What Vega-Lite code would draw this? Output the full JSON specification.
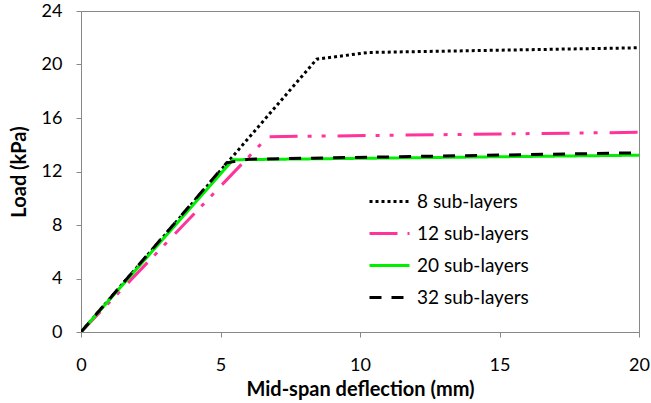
{
  "$schema": "https://vega.github.io/schema/vega-lite/v6.json",
  "autosize": "none",
  "width": 558,
  "height": 321,
  "padding": {"left": 81, "top": 11, "right": 12, "bottom": 71},
  "background": "white",
  "config": {
    "view": {"stroke": "#888888", "strokeWidth": 1},
    "font": "Lato",
    "axis": {"grid": false, "labelFlush": false, "domainColor": "#888888", "tickColor": "#888888", "tickSize": 5, "labelFont": "Lato", "labelFontSize": 18, "labelColor": "black", "titleFont": "Lato", "titleFontSize": 20, "titleFontWeight": "bold", "titleColor": "black"}
  },
  "data": {
    "values": [
      {"series": "8 sub-layers", "x": 0, "y": 0},
      {"series": "8 sub-layers", "x": 8.45, "y": 20.4},
      {"series": "8 sub-layers", "x": 10.3, "y": 20.9},
      {"series": "8 sub-layers", "x": 20, "y": 21.25},
      {"series": "12 sub-layers", "x": 0, "y": 0},
      {"series": "12 sub-layers", "x": 6.7, "y": 14.6},
      {"series": "12 sub-layers", "x": 20, "y": 14.93},
      {"series": "20 sub-layers", "x": 0, "y": 0},
      {"series": "20 sub-layers", "x": 5.45, "y": 12.88},
      {"series": "20 sub-layers", "x": 20, "y": 13.22},
      {"series": "32 sub-layers", "x": 0, "y": 0},
      {"series": "32 sub-layers", "x": 5.22, "y": 12.65},
      {"series": "32 sub-layers", "x": 6.0, "y": 12.92},
      {"series": "32 sub-layers", "x": 20, "y": 13.4}
    ]
  },
  "mark": {"type": "line", "strokeWidth": 3, "clip": true},
  "encoding": {
    "x": {"field": "x", "type": "quantitative", "title": "Mid-span deflection (mm)",
      "scale": {"domain": [0, 20], "nice": false},
      "axis": {"values": [0, 5, 10, 15, 20], "labelPadding": 19, "titlePadding": 5}},
    "y": {"field": "y", "type": "quantitative", "title": "Load (kPa)",
      "scale": {"domain": [0, 24], "nice": false},
      "axis": {"values": [0, 4, 8, 12, 16, 20, 24], "labelPadding": 14, "titlePadding": 12}},
    "color": {"field": "series", "type": "nominal",
      "sort": ["8 sub-layers", "12 sub-layers", "20 sub-layers", "32 sub-layers"],
      "scale": {"domain": ["8 sub-layers", "12 sub-layers", "20 sub-layers", "32 sub-layers"], "range": ["#000000", "#FF3399", "#00EE00", "#000000"]},
      "legend": {"title": null, "orient": "none", "legendX": 287, "legendY": 169, "symbolType": "stroke", "symbolSize": 1600, "symbolStrokeWidth": 3, "labelFont": "Lato", "labelFontSize": 19, "labelColor": "black", "rowPadding": 0, "labelOffset": 6}},
    "strokeDash": {"field": "series", "type": "nominal",
      "sort": ["8 sub-layers", "12 sub-layers", "20 sub-layers", "32 sub-layers"],
      "scale": {"domain": ["8 sub-layers", "12 sub-layers", "20 sub-layers", "32 sub-layers"], "range": [[3, 3], [28, 10, 4, 10, 4, 12], [1, 0], [12, 10]]}},
    "order": {"field": "x", "type": "quantitative"}
  }
}
